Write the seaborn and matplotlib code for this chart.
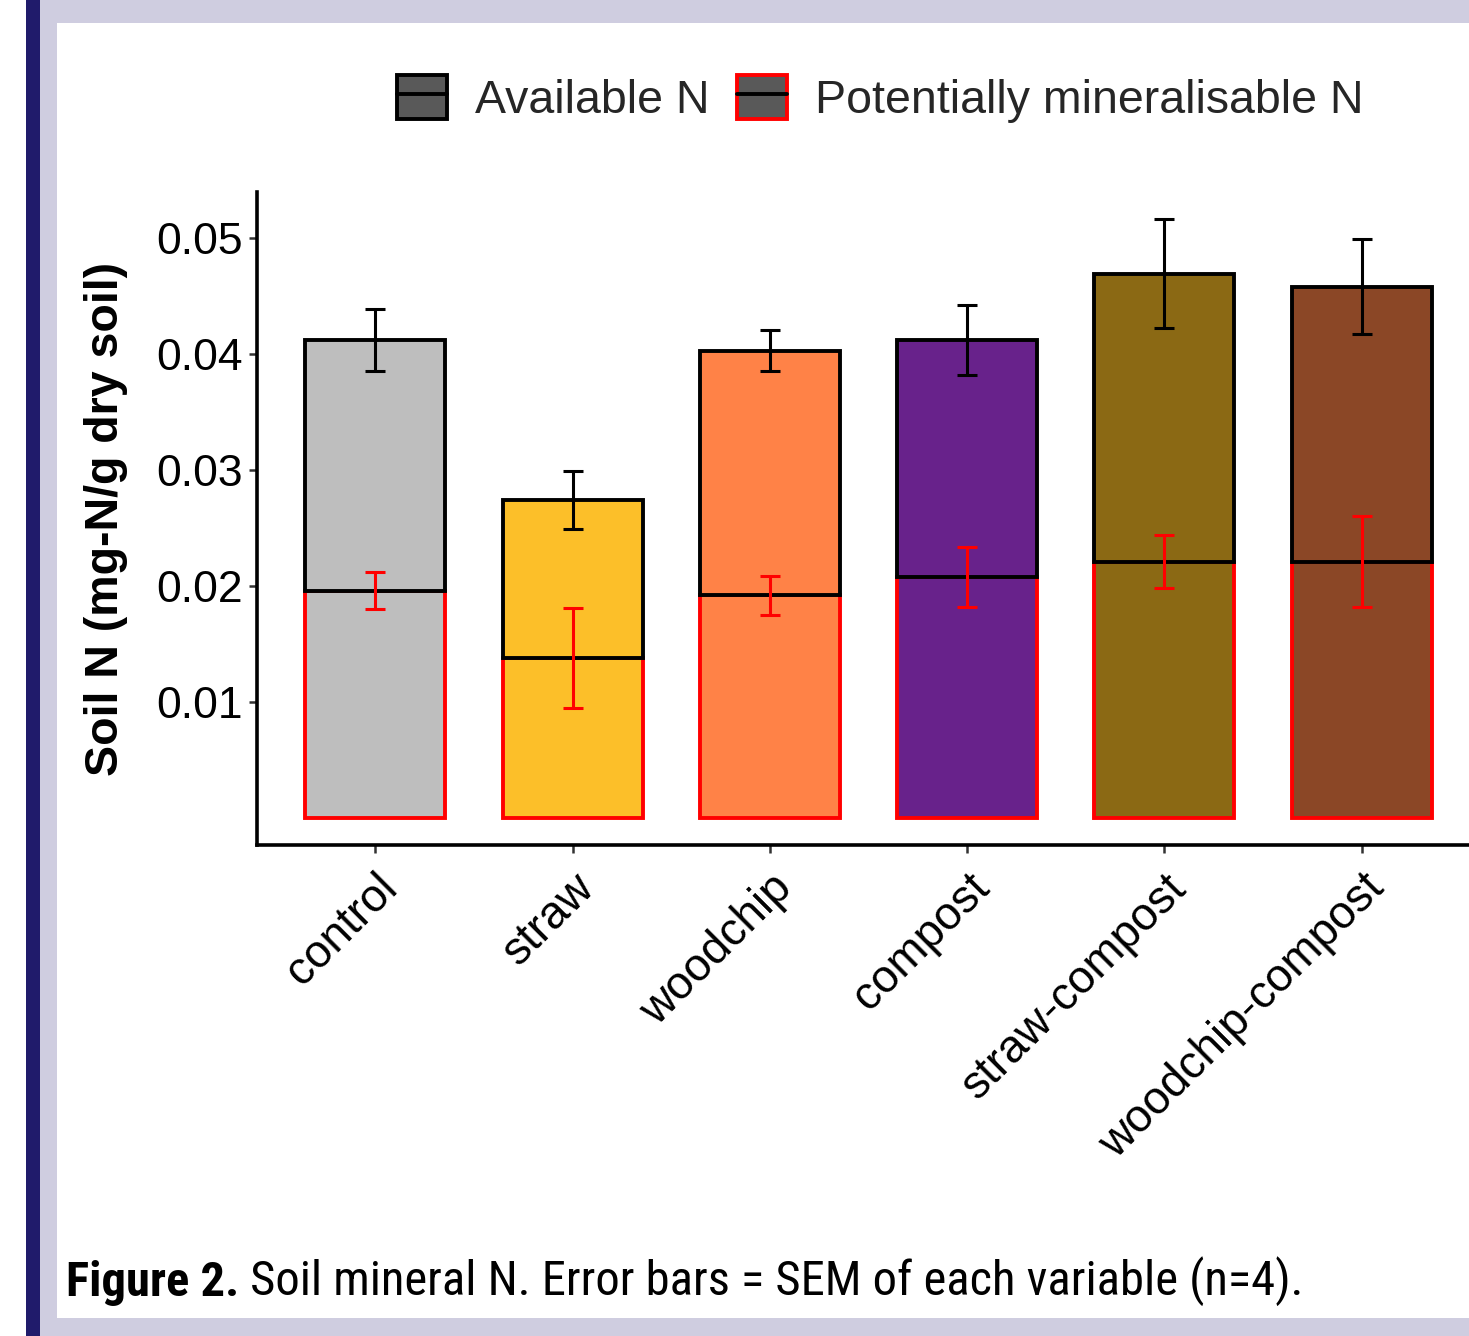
import numpy as np
import pandas as pd
import matplotlib
matplotlib.use("Agg")
import matplotlib.pyplot as plt
import seaborn as sns
from matplotlib.patches import Patch, Rectangle
from matplotlib.lines import Line2D
from matplotlib.legend_handler import HandlerTuple
from matplotlib import font_manager

# ---------------- data ----------------
categories = ["control", "straw", "woodchip", "compost", "straw-compost", "woodchip-compost"]
available_n = [0.0412, 0.0274, 0.0403, 0.0412, 0.0469, 0.0458]
available_sem = [0.0027, 0.0025, 0.0018, 0.0030, 0.0047, 0.0041]
pmn = [0.0196, 0.0138, 0.0192, 0.0208, 0.0221, 0.0221]
pmn_sem = [0.0016, 0.0043, 0.0017, 0.0026, 0.0023, 0.0039]
bar_colors = ["#BEBEBE", "#FCBF29", "#FF8247", "#68228B", "#8B6914", "#8B4726"]
y_ticks = [0.01, 0.02, 0.03, 0.04, 0.05]
y_tick_labels = ["0.01", "0.02", "0.03", "0.04", "0.05"]
legend_labels = ["Available N", "Potentially mineralisable N"]
y_label = "Soil N (mg-N/g dry soil)"
caption_bold = "Figure 2."
caption_rest = " Soil mineral N. Error bars = SEM of each variable (n=4)."

df = pd.DataFrame({
    "treatment": categories,
    "pmn": pmn,
    "upper": np.array(available_n) - np.array(pmn),
})

# ---------------- style ----------------
sns.set_theme(style="ticks")
plt.rcParams["font.family"] = ["Liberation Sans", "DejaVu Sans"]

names = {f.name for f in font_manager.fontManager.ttflist}
cap_family = [f for f in ["Liberation Sans Narrow", "Roboto Condensed", "Open Sans", "Liberation Sans"] if f in names][:1] + ["DejaVu Sans"]

W, H = 1469, 1336
fig = plt.figure(figsize=(W / 100, H / 100), dpi=100, facecolor="#CFCDE0")

# frame decoration
fig.add_artist(Rectangle((0, 0), 26 / W, 1, transform=fig.transFigure, facecolor="white", edgecolor="none", zorder=-5))
fig.add_artist(Rectangle((26 / W, 0), 14 / W, 1, transform=fig.transFigure, facecolor="#201B6B", edgecolor="none", zorder=-5))
fig.add_artist(Rectangle((57 / W, 1 - 1318 / H), 1 - 57 / W, (1318 - 23) / H, transform=fig.transFigure,
                         facecolor="white", edgecolor="none", zorder=-5))

ax = fig.add_axes([257 / W, 1 - 845 / H, (1480 - 257) / W, (845 - 192) / H])
ax.set_facecolor("none")

lw_bar = 2.8
lw_err = 2.2
# lower part: potentially mineralisable N (red outline)
sns.barplot(data=df, x="treatment", y="pmn", order=categories, color="#BEBEBE",
            edgecolor="red", linewidth=lw_bar, width=0.71, errorbar=None, ax=ax, zorder=2)
n = len(categories)
for p, c in zip(ax.patches[:n], bar_colors):
    p.set_facecolor(c)
    p.set_edgecolor("red")
    p.set_linewidth(lw_bar)

# upper part up to available N (black outline)
sns.barplot(data=df, x="treatment", y="upper", order=categories, color="#BEBEBE",
            bottom=df["pmn"].to_numpy(), edgecolor="black", linewidth=lw_bar, width=0.71,
            errorbar=None, ax=ax, zorder=3)
for p, c in zip(ax.patches[n:2 * n], bar_colors):
    p.set_facecolor(c)
    p.set_edgecolor("black")
    p.set_linewidth(lw_bar)

xpos = np.arange(n)
ax.errorbar(xpos, available_n, yerr=available_sem, fmt="none", ecolor="black",
            elinewidth=lw_err, capsize=7.2, capthick=lw_err, zorder=4)
ax.errorbar(xpos, pmn, yerr=pmn_sem, fmt="none", ecolor="red",
            elinewidth=lw_err, capsize=7.2, capthick=lw_err, zorder=5)

ax.set_xlim(-0.6, 5.6)
ax.set_ylim(-0.002328, 0.053966)
ax.set_yticks(y_ticks)
ax.set_yticklabels(y_tick_labels)
ax.set_xlabel("")
ax.set_ylabel(y_label, fontsize=33.5, fontweight="bold", color="black")
ax.yaxis.set_label_coords(-0.1055, 0.5)

for s in ["top", "right"]:
    ax.spines[s].set_visible(False)
for s in ["left", "bottom"]:
    ax.spines[s].set_linewidth(2.6)
    ax.spines[s].set_color("black")

ax.tick_params(axis="both", length=6, width=1.8, color="#333333",
               labelcolor="black")
ax.tick_params(axis="y", labelsize=32, pad=4)
ax.tick_params(axis="x", labelsize=33, pad=9)
for lbl in ax.get_xticklabels():
    lbl.set_rotation(45)
    lbl.set_ha("right")
    lbl.set_va("top")
    lbl.set_rotation_mode("anchor")

# legend
handles = [
    (Patch(facecolor="#595959", edgecolor="black", linewidth=lw_bar), Line2D([0], [0], color="black", lw=lw_bar)),
    (Patch(facecolor="#595959", edgecolor="red", linewidth=lw_bar), Line2D([0], [0], color="black", lw=lw_bar)),
]
fig.legend(handles, legend_labels, handler_map={tuple: HandlerTuple(ndivide=1, pad=0)},
           loc="center", bbox_to_anchor=(0.599, 1 - 99 / H), ncol=2, frameon=False,
           fontsize=33.5, handlelength=1.09, handleheight=1.09, handletextpad=0.59,
           columnspacing=0.59, borderpad=0, borderaxespad=0)

# caption
t1 = fig.text(66 / W, 1 - 1296 / H, caption_bold, fontsize=35, fontweight="bold",
              family=cap_family, va="baseline", ha="left", color="black")
ax.annotate(caption_rest, xy=(1, 0), xycoords=t1, va="bottom", ha="left",
            fontsize=35, family=cap_family, color="black", annotation_clip=False)

fig.savefig("out.png", dpi=100, facecolor=fig.get_facecolor())
